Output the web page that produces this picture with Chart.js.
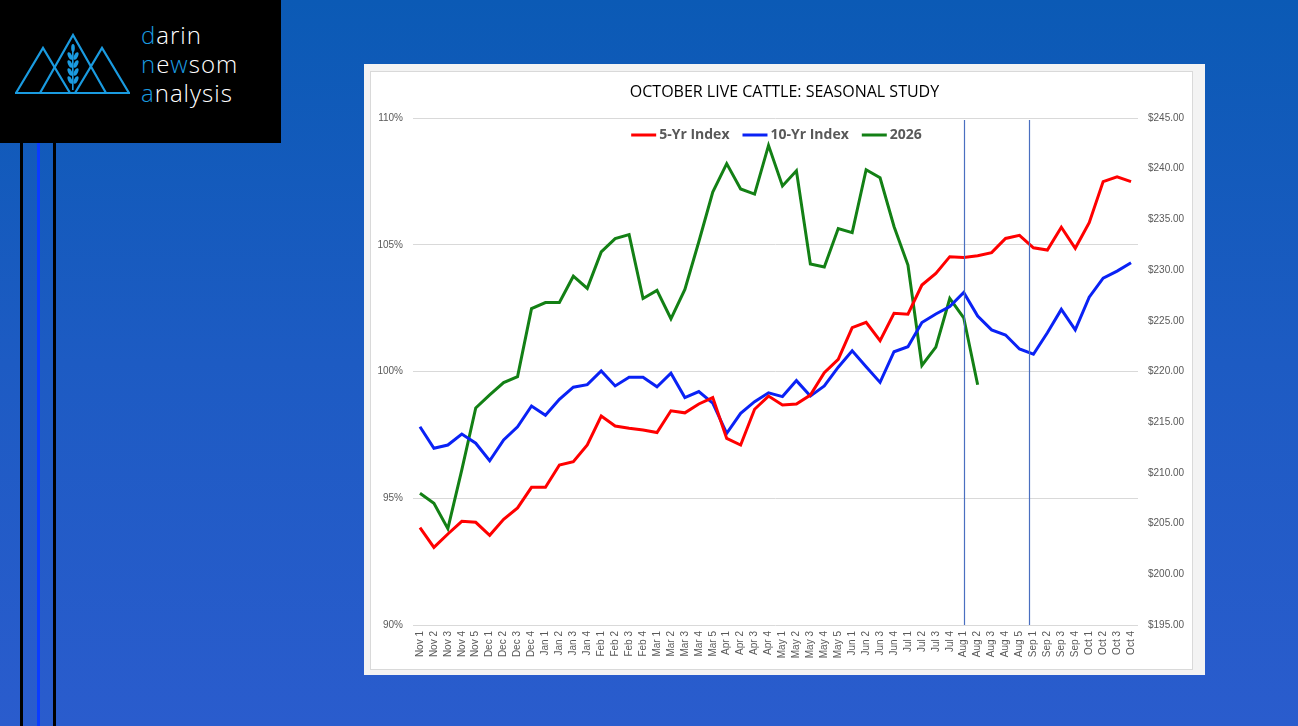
<!DOCTYPE html>
<html>
<head>
<meta charset="utf-8">
<script src="https://cdn.jsdelivr.net/npm/chart.js@4.4.1/dist/chart.umd.min.js"></script>
<style>
  html, body { margin: 0; padding: 0; }
  body {
    width: 1298px; height: 726px; overflow: hidden; position: relative;
    background: linear-gradient(180deg, #0b5ab5 0%, #1d5bc3 50%, #2a5ccd 100%);
    font-family: "Open Sans", "Liberation Sans", sans-serif;
  }
  #logo { position: absolute; left: 0; top: 0; width: 281px; height: 143px; background: #000; }
  #logo .txt { position: absolute; left: 141px; top: 20px; color: #fff; font-family: "Open Sans", sans-serif; font-weight: 300; font-size: 24px; line-height: 29px; letter-spacing: 1px; }
  #logo .b { color: #1a9be0; }
  .bar { position: absolute; top: 143px; bottom: 0; width: 3px; }
  #panel { position: absolute; left: 364px; top: 64px; width: 841px; height: 611px; background: #f3f3f3; }
  #inner { position: absolute; left: 6px; top: 7px; width: 821px; height: 597px; background: #fff; border: 1px solid #d9d9d9; }
  #c { position: absolute; left: 0; top: 0; }
</style>
</head>
<body>
<div id="logo">
  <svg width="140" height="143" style="position:absolute;left:0;top:0">
    <g fill="none" stroke="#1a9be0" stroke-width="2.2" stroke-linejoin="miter">
      <polyline points="16,93 43,48 70,93"/>
      <polyline points="40,93 73,35 106,93"/>
      <polyline points="75,93 102,48 129,93"/>
      <line x1="15" y1="93" x2="130" y2="93"/>
    </g>
    <g fill="#1a9be0">
      <rect x="72" y="46" width="1.6" height="44"/>
      <ellipse cx="73" cy="48" rx="1.8" ry="4"/>
      <ellipse cx="70" cy="56" rx="2" ry="4" transform="rotate(-25 70 56)"/>
      <ellipse cx="76" cy="56" rx="2" ry="4" transform="rotate(25 76 56)"/>
      <ellipse cx="70" cy="64" rx="2" ry="4" transform="rotate(-25 70 64)"/>
      <ellipse cx="76" cy="64" rx="2" ry="4" transform="rotate(25 76 64)"/>
      <ellipse cx="70" cy="72" rx="2" ry="4" transform="rotate(-25 70 72)"/>
      <ellipse cx="76" cy="72" rx="2" ry="4" transform="rotate(25 76 72)"/>
      <ellipse cx="70" cy="80" rx="2" ry="4" transform="rotate(-25 70 80)"/>
      <ellipse cx="76" cy="80" rx="2" ry="4" transform="rotate(25 76 80)"/>
    </g>
  </svg>
  <div class="txt"><span class="b">d</span>arin<br><span class="b">n</span>e<span class="b">w</span>som<br><span class="b">a</span>nalysis</div>
</div>
<div class="bar" style="left:20px;background:#000"></div>
<div class="bar" style="left:37px;background:#0a3cff"></div>
<div class="bar" style="left:53px;background:#000"></div>

<div id="panel">
  <div id="inner"></div>
  <canvas id="c" width="841" height="611"></canvas>
</div>

<script>
const categories = [
  "Nov 1","Nov 2","Nov 3","Nov 4","Nov 5",
  "Dec 1","Dec 2","Dec 3","Dec 4",
  "Jan 1","Jan 2","Jan 3","Jan 4",
  "Feb 1","Feb 2","Feb 3","Feb 4",
  "Mar 1","Mar 2","Mar 3","Mar 4","Mar 5",
  "Apr 1","Apr 2","Apr 3","Apr 4",
  "May 1","May 2","May 3","May 4","May 5",
  "Jun 1","Jun 2","Jun 3","Jun 4",
  "Jul 1","Jul 2","Jul 3","Jul 4",
  "Aug 1","Aug 2","Aug 3","Aug 4","Aug 5",
  "Sep 1","Sep 2","Sep 3","Sep 4",
  "Oct 1","Oct 2","Oct 3","Oct 4"
];

// 5-Yr seasonal index (%), left axis
const index5yr = [
  93.84, 93.06, 93.59, 94.09, 94.05,
  93.54, 94.17, 94.62, 95.43,
  95.43, 96.31, 96.44, 97.10,
  98.24, 97.85, 97.76, 97.69,
  97.59, 98.45, 98.37, 98.72, 98.97,
  97.36, 97.10, 98.51, 99.03,
  98.68, 98.72, 99.07, 99.95, 100.48,
  101.73, 101.94, 101.22, 102.30,
  102.26, 103.41, 103.87, 104.53,
  104.50, 104.57, 104.69, 105.25, 105.37,
  104.88, 104.79, 105.69, 104.86,
  105.87, 107.49, 107.68, 107.49
];

// 10-Yr seasonal index (%), left axis
const index10yr = [
  97.82, 96.97, 97.10, 97.53, 97.17,
  96.48, 97.30, 97.82, 98.64,
  98.27, 98.90, 99.38, 99.48,
  100.02, 99.43, 99.77, 99.77,
  99.40, 99.93, 98.97, 99.21, 98.75,
  97.56, 98.35, 98.81, 99.16,
  99.01, 99.64, 99.03, 99.43, 100.17,
  100.82, 100.19, 99.57, 100.78,
  100.98, 101.93, 102.27, 102.56,
  103.12, 102.19, 101.64, 101.44, 100.89,
  100.68, 101.53, 102.45, 101.64,
  102.93, 103.68, 103.96, 104.29
];

// 2026 October live cattle futures ($), right axis
const futures2026 = [
  208.0, 207.0, 204.5, 210.3, 216.4,
  217.7, 218.9, 219.5, 226.2,
  226.8, 226.8, 229.4, 228.2,
  231.8, 233.1, 233.5, 227.2,
  228.0, 225.2, 228.1, 232.8, 237.7,
  240.5, 238.0, 237.5, 242.3,
  238.3, 239.8, 230.6, 230.3, 234.1,
  233.7, 239.9, 239.1, 234.3,
  230.5, 220.6, 222.4, 227.2,
  225.3, 218.7
];

const pctTicks = [90, 95, 100, 105, 110];
const dollarTicks = [195, 200, 205, 210, 215, 220, 225, 230, 235, 240, 245];
const markerPositions = [39, 43.7]; // vertical marker lines (category index)

const markerPlugin = {
  id: 'markers',
  afterDatasetsDraw(chart) {
    const { ctx, chartArea, scales } = chart;
    ctx.save();
    ctx.strokeStyle = '#4a6fc0';
    ctx.lineWidth = 1.2;
    markerPositions.forEach(v => {
      const x = Math.round(scales.x.getPixelForValue(v)) + 0.5;
      ctx.beginPath();
      ctx.moveTo(x, chartArea.top + 2);
      ctx.lineTo(x, chartArea.bottom);
      ctx.stroke();
    });
    ctx.restore();
  }
};

// legend drawn inside the plot area, top-centred (Excel style)
const insideLegend = {
  id: 'insideLegend',
  afterDatasetsDraw(chart) {
    const { ctx, chartArea } = chart;
    const lineW = 25, gapText = 3, gapItem = 13;
    ctx.save();
    ctx.font = "bold 14px 'Open Sans', 'Liberation Sans', sans-serif";
    const items = chart.data.datasets.map(d => ({ label: d.label, color: d.borderColor, w: ctx.measureText(d.label).width }));
    const total = items.reduce((s, it) => s + lineW + gapText + it.w, 0) + gapItem * (items.length - 1);
    let x = (chartArea.left + chartArea.right) / 2 - total / 2 + 1;
    const y = chartArea.top + 17;
    ctx.textBaseline = 'middle';
    items.forEach(it => {
      ctx.strokeStyle = it.color;
      ctx.lineWidth = 3;
      ctx.beginPath();
      ctx.moveTo(x, y);
      ctx.lineTo(x + lineW, y);
      ctx.stroke();
      ctx.fillStyle = '#595959';
      ctx.fillText(it.label, x + lineW + gapText, y);
      x += lineW + gapText + it.w + gapItem;
    });
    ctx.restore();
  }
};

const tickFont = { family: "'Liberation Sans', 'Open Sans', sans-serif", size: 10 };

new Chart(document.getElementById('c'), {
  type: 'line',
  data: {
    labels: categories,
    datasets: [
      { label: '5-Yr Index', data: index5yr, yAxisID: 'y', borderColor: '#ff0000', backgroundColor: '#ff0000', borderWidth: 3, pointRadius: 0, tension: 0 },
      { label: '10-Yr Index', data: index10yr, yAxisID: 'y', borderColor: '#0a22f5', backgroundColor: '#0a22f5', borderWidth: 3, pointRadius: 0, tension: 0 },
      { label: '2026', data: futures2026, yAxisID: 'y2', borderColor: '#138015', backgroundColor: '#138015', borderWidth: 3, pointRadius: 0, tension: 0 }
    ]
  },
  options: {
    responsive: false,
    animation: false,
    devicePixelRatio: 1,
    layout: { padding: { left: 0, right: 0, top: 0, bottom: 0 } },
    plugins: {
      title: {
        display: true,
        text: 'OCTOBER LIVE CATTLE: SEASONAL STUDY',
        color: '#000',
        font: { family: "'Open Sans', 'Liberation Sans', sans-serif", size: 16, weight: 'normal', lineHeight: 1.2 },
        padding: { top: 19, bottom: 15.8 }
      },
      legend: { display: false },
      tooltip: { enabled: false }
    },
    scales: {
      x: {
        offset: true,
        grid: { display: false, drawTicks: false },
        border: { display: false },
        ticks: { autoSkip: false, minRotation: 90, maxRotation: 90, color: '#595959', font: tickFont, padding: 6 },
        afterFit(s) { s.height = 50; }
      },
      y: {
        position: 'left',
        min: 90, max: 110,
        afterBuildTicks(s) { s.ticks = pctTicks.map(v => ({ value: v })); },
        grid: { color: '#d9d9d9', lineWidth: 1, drawTicks: false },
        border: { display: false },
        ticks: { color: '#595959', font: tickFont, padding: 10, callback: v => v + '%' },
        afterFit(s) { s.width = 49; }
      },
      y2: {
        position: 'right',
        min: 195, max: 245,
        afterBuildTicks(s) { s.ticks = dollarTicks.map(v => ({ value: v })); },
        grid: { display: false, drawTicks: false },
        border: { display: false },
        ticks: { color: '#595959', font: tickFont, padding: 10, callback: v => '$' + v.toFixed(2) },
        afterFit(s) { s.width = 67; }
      }
    }
  },
  plugins: [markerPlugin, insideLegend]
});
</script>
</body>
</html>
